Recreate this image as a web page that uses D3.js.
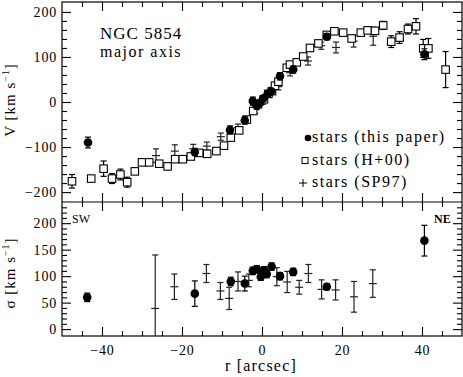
<html>
<script src="https://d3js.org/d3.v7.min.js"></script>
<body style="margin:0; background:#fff">
<svg width="463" height="377"></svg>
<script>

// top panel: rotation velocity along the major axis, [r (arcsec), V (km/s), error]
var topThis = [[-43.5,-90,12],[-16.8,-111,8],[-8,-62,9],[-4.3,-41,8],[-2.3,2,9],[-1.3,-8,8],[-0.5,-2,6],
  [0.3,8,6],[1.4,18,6],[2.3,24,6],[4.5,57,8],[7.8,72,8],[16.2,145,7],[40.6,106,12]];

var topH00 = [[-47.5,-176,15],[-42.7,-170,0],[-39.6,-148,17],[-37.5,-170,11],[-35.4,-161,12],[-33.7,-178,11],
  [-31.8,-154,5],[-30,-134,6],[-28.2,-134,6],[-25.7,-137,7],[-23.6,-143,0],[-21.7,-127,5],[-19.8,-127,4],
  [-17.8,-121,4],[-15.7,-113,4],[-13.7,-115,4],[-11.4,-109,4],[-9.5,-97,4],[-7.8,-79,5],[-5.7,-63,5],
  [-3.8,-39,5],[-2.2,-20,5],[-1,-5,4],[0.5,6,4],[1.6,18,4],[2.5,24,4],[3.25,36,4],[4.1,45,4],[6.2,76,4],
  [7,83,4],[8.7,88,4],[10.3,101,4],[12,120,4],[14.1,130,4],[16.2,149,4],[18.1,157,4],[20.3,154,4],
  [22.4,141,6],[24.7,154,5],[26.4,159,4],[28.25,158,5],[30.3,170,9],[32.3,134,13],[34.4,143,13],
  [36.5,162,11],[38.5,168,17],[40.3,119,20],[41.6,119,22],[45.9,72,40]];

var topSP = [[-26.5,-119,15],[-21.8,-109,14],[-17.2,-104,10],[-13.8,-98,9],[-10.3,-77,8],[-6,-57,8],
  [-1.7,-17,8],[0.3,2,7],[4.1,34,7],[7,65,7],[11.5,91,9],[14.8,125,8],[18.5,121,12],[22.9,135,13],[27.8,146,20]];

// bottom panel: velocity dispersion, [r, sigma, error]
var botThis = [[-43.7,60,8],[-16.8,67,24],[-7.8,90,8],[-4.3,86,14],[-2.3,110,7],[-1.3,113,7],[-0.3,99,7],
  [0.5,111,7],[1.2,104,7],[2.4,118,7],[4.5,100,7],[7.8,108,7],[16.2,80,6],[40.6,167,29]];

var botSP = [[-26.7,39,101],[-21.9,80,24],[-13.9,105,17],[-10.4,72,16],[-8.2,58,21],[-6,90,18],[-3.3,92,12],
  [3.7,99,17],[6.3,89,20],[9.3,79,13],[11.6,105,17],[14.9,75,18],[18.4,74,19],[23,61,29],[27.7,86,26]];

var xMajor = [-40,-20,0,20,40];
var vMajor = [-200,-100,0,100,200];
var sMajor = [0,50,100,150,200];

var legendLabels = ["stars (this paper)", "stars (H+00)", "stars (SP97)"];

var svg = d3.select("svg");
var font = "'Liberation Serif', 'Times New Roman', serif";

var x = d3.scaleLinear().domain([-50,50]).range([62,462]);
var yTop = d3.scaleLinear().domain([-222,222]).range([202,2]);
var yBot = d3.scaleLinear().domain([-13,240]).range([336,202]);

var xMinor = d3.range(-45,50,5).filter(d => xMajor.indexOf(d) < 0);
var vMinor = d3.range(-180,200,20).filter(d => d % 100 != 0);
var sMinor = d3.range(10,240,10).filter(d => d % 50 != 0);

function fmt(d) { return d < 0 ? "\u2212" + (-d) : d; }

function ticks(axisFn, scale, vals, size, tx, ty, labels, pad) {
  var g = svg.append("g").attr("transform", "translate(" + tx + "," + ty + ")")
    .call(axisFn(scale).tickValues(vals).tickSize(-size).tickPadding(pad || 5).tickFormat(labels ? fmt : ""));
  g.select(".domain").remove();
  g.selectAll("line").attr("stroke", "#000").attr("stroke-width", 1.1);
  g.selectAll("text").style("font-family", font).style("font-size", "14px").attr("fill", "#000")
    .style("letter-spacing", "0.8px");
  return g;
}

// frame ticks on all four sides of each panel
[[yTop, vMajor, vMinor, 2, 202], [yBot, sMajor, sMinor, 202, 336]].forEach(function(p, i) {
  ticks(d3.axisLeft, p[0], p[1], 9, 62, 0, true, 5);
  ticks(d3.axisLeft, p[0], p[2], 5, 62, 0, false);
  ticks(d3.axisRight, p[0], p[1], 9, 462, 0, false);
  ticks(d3.axisRight, p[0], p[2], 5, 462, 0, false);
  ticks(d3.axisTop, x, xMajor, 9, 0, p[3], false);
  ticks(d3.axisTop, x, xMinor, 5, 0, p[3], false);
  ticks(d3.axisBottom, x, xMajor, 9, 0, p[4], i == 1, 9);
  ticks(d3.axisBottom, x, xMinor, 5, 0, p[4], false);
});

svg.append("rect").attr("x", 62).attr("y", 2).attr("width", 400).attr("height", 334)
  .attr("fill", "none").attr("stroke", "#000").attr("stroke-width", 1.2);
svg.append("line").attr("x1", 62).attr("x2", 462).attr("y1", 202).attr("y2", 202)
  .attr("stroke", "#000").attr("stroke-width", 1.2);

var defs = svg.append("defs");
defs.append("clipPath").attr("id", "ctop").append("rect").attr("x", 62).attr("y", 2).attr("width", 400).attr("height", 200);
defs.append("clipPath").attr("id", "cbot").append("rect").attr("x", 62).attr("y", 202).attr("width", 400).attr("height", 134);

function errbars(g, data, y, color) {
  var e = g.append("g").attr("stroke", color).attr("stroke-width", 1.2);
  data.filter(d => d[2] > 0).forEach(function(d) {
    var cx = x(d[0]), y0 = y(d[1] - d[2]), y1 = y(d[1] + d[2]);
    e.append("line").attr("x1", cx).attr("x2", cx).attr("y1", y0).attr("y2", y1);
    e.append("line").attr("x1", cx - 3).attr("x2", cx + 3).attr("y1", y0).attr("y2", y0);
    e.append("line").attr("x1", cx - 3).attr("x2", cx + 3).attr("y1", y1).attr("y2", y1);
  });
}

function crosses(g, data, y) {
  errbars(g, data, y, "#222");
  g.append("g").selectAll("line").data(data).join("line")
    .attr("x1", d => x(d[0]) - 4).attr("x2", d => x(d[0]) + 4)
    .attr("y1", d => y(d[1])).attr("y2", d => y(d[1]))
    .attr("stroke", "#222").attr("stroke-width", 1.2);
}

function squares(g, data, y) {
  errbars(g, data, y, "#000");
  g.append("g").selectAll("rect").data(data).join("rect")
    .attr("x", d => x(d[0]) - 3.75).attr("y", d => y(d[1]) - 3.75)
    .attr("width", 7.5).attr("height", 7.5)
    .attr("fill", "#fff").attr("stroke", "#000").attr("stroke-width", 1.1);
}

function dots(g, data, y) {
  errbars(g, data, y, "#000");
  g.append("g").selectAll("circle").data(data).join("circle")
    .attr("cx", d => x(d[0])).attr("cy", d => y(d[1])).attr("r", 4.3).attr("fill", "#000");
}

var gTop = svg.append("g").attr("clip-path", "url(#ctop)");
crosses(gTop, topSP, yTop);
squares(gTop, topH00, yTop);
dots(gTop, topThis, yTop);

var gBot = svg.append("g").attr("clip-path", "url(#cbot)");
crosses(gBot, botSP, yBot);
dots(gBot, botThis, yBot);

function label(tx, ty, str, size, extra) {
  return svg.append("text").attr("x", tx).attr("y", ty).text(str)
    .style("font-family", font).style("font-size", size + "px").attr("fill", "#000")
    .style("letter-spacing", (extra || 0) + "px");
}

label(100, 39, "NGC 5854", 17, 1);
label(100, 57, "major axis", 16, 1.5);
label(72, 223, "SW", 12, 0);
label(434, 223, "NE", 12, 0).style("font-weight", "bold");

// legend
var ly = [142, 165, 187];
svg.append("circle").attr("cx", 308).attr("cy", ly[0] - 4).attr("r", 3.3).attr("fill", "#000");
svg.append("rect").attr("x", 302).attr("y", ly[1] - 7.5).attr("width", 6).attr("height", 6)
  .attr("fill", "none").attr("stroke", "#000").attr("stroke-width", 1);
svg.append("path").attr("d", "M299," + (ly[2] - 4) + "h8M303," + (ly[2] - 8) + "v8")
  .attr("stroke", "#000").attr("stroke-width", 1);
legendLabels.forEach(function(t, i) { label(312, ly[i], t, 16, 1.5); });

// axis titles
label(261, 371, "r [arcsec]", 16, 1.2).attr("text-anchor", "middle");

function yTitle(cy, sym) {
  var t = svg.append("text").attr("transform", "translate(15," + cy + ") rotate(-90)")
    .attr("text-anchor", "middle").style("font-family", font).style("font-size", "15px")
    .style("letter-spacing", "1px").attr("fill", "#000");
  t.append("tspan").text(sym + " [km s");
  t.append("tspan").attr("dy", -6).style("font-size", "10px").text("\u22121");
  t.append("tspan").attr("dy", 6).text("]");
}
yTitle(100, "V");
yTitle(273, "\u03c3");

</script>
</body>
</html>
